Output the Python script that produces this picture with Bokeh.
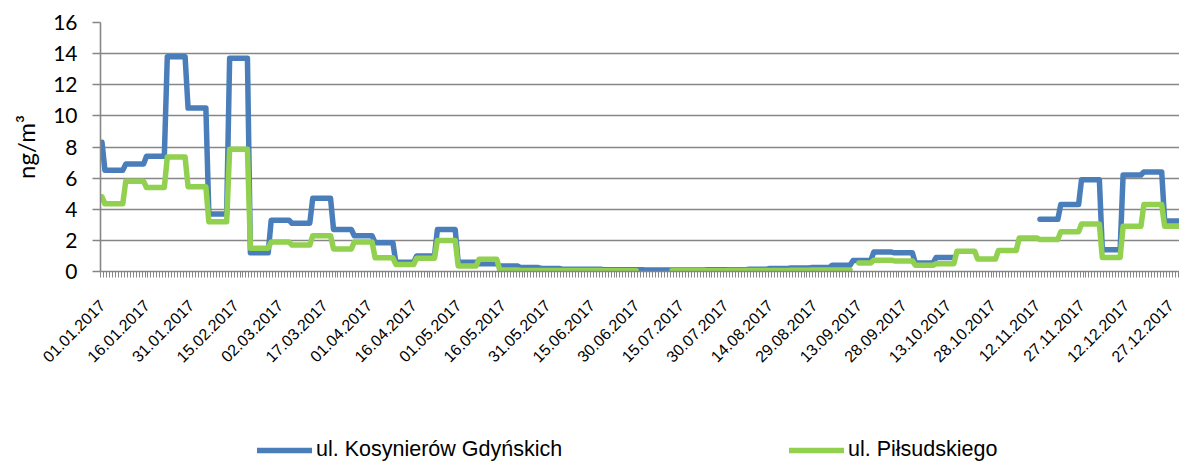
import numpy as np
import pandas as pd
from math import pi
from datetime import datetime
from bokeh.plotting import figure
from bokeh.layouts import column
from bokeh.models import Range1d, FixedTicker, Legend, LegendItem
from bokeh.embed import file_html
from bokeh.resources import INLINE

# ---- data (weekly sampling periods, Monday to Sunday) ----
week_starts = pd.date_range("2016-12-26", periods=53, freq="7D")

blue_weekly = [8.3, 6.5, 6.9, 7.4, 13.8, 10.5, 3.7, 13.7, 1.2, 3.3,
               3.1, 4.7, 2.7, 2.3, 1.85, 0.6, 1.0, 2.7, 0.6, 0.5,
               0.35, 0.25, 0.2, 0.15, 0.15, 0.12, 0.12, 0.1, 0.1, 0.1,
               0.12, 0.12, 0.15, 0.2, 0.22, 0.25, 0.4, 0.7, 1.25, 1.2,
               0.55, 0.9, None, None, None, None, 3.35, 4.3, 5.9, 1.4,
               6.2, 6.4, 3.25]

green_weekly = [4.8, 4.35, 5.8, 5.4, 7.35, 5.45, 3.2, 7.85, 1.5, 1.9,
                1.7, 2.3, 1.45, 1.9, 0.88, 0.45, 0.85, 2.0, 0.35, 0.78,
                0.1, 0.07, 0.07, 0.06, 0.06, 0.05, 0.05, 0.05, 0.05, 0.05,
                0.05, 0.06, 0.06, 0.07, 0.08, 0.1, 0.1, 0.55, 0.72, 0.68,
                0.4, 0.5, 1.3, 0.8, 1.35, 2.15, 2.05, 2.55, 3.05, 0.9,
                2.9, 4.3, 2.9]

green_missing = [("2017-07-01", "2017-07-11"), ("2017-09-11", "2017-09-12")]

tick_labels = ["01.01.2017", "16.01.2017", "31.01.2017", "15.02.2017", "02.03.2017",
               "17.03.2017", "01.04.2017", "16.04.2017", "01.05.2017", "16.05.2017",
               "31.05.2017", "15.06.2017", "30.06.2017", "15.07.2017", "30.07.2017",
               "14.08.2017", "29.08.2017", "13.09.2017", "28.09.2017", "13.10.2017",
               "28.10.2017", "12.11.2017", "27.11.2017", "12.12.2017", "27.12.2017"]

series_names = ["ul. Kosynierów Gdyńskich", "ul. Piłsudskiego"]
series_colors = ["#4a7ebb", "#92d050"]
y_ticks = [0, 2, 4, 6, 8, 10, 12, 14, 16]

# ---- build daily series ----
days = pd.date_range("2017-01-01", "2017-12-31", freq="D")
week_idx = np.asarray((days - week_starts[0]).days // 7)
blue = np.array([np.nan if v is None else v for v in blue_weekly], dtype=float)[week_idx]
green = np.array(green_weekly, dtype=float)[week_idx]
for a, b in green_missing:
    green[(days >= pd.Timestamp(a)) & (days <= pd.Timestamp(b))] = np.nan
x = np.arange(len(days))

label_pos = [int(days.get_loc(pd.Timestamp(datetime.strptime(t, "%d.%m.%Y")))) for t in tick_labels]

GRAY = "#868686"

p = figure(width=1179, height=428,
           x_range=Range1d(-0.5, 363.0), y_range=Range1d(0, 16),
           output_backend="svg", toolbar_location=None,
           min_border_left=100, min_border_right=0,
           min_border_top=22, min_border_bottom=157)
p.outline_line_color = None

p.line(x, blue, line_color=series_colors[0], line_width=5.5,
       line_join="round", line_cap="round")
p.line(x, green, line_color=series_colors[1], line_width=5.5,
       line_join="round", line_cap="round")

# grid
p.xgrid.visible = False
p.ygrid.ticker = FixedTicker(ticks=y_ticks)
p.ygrid.grid_line_color = GRAY
p.ygrid.grid_line_width = 1.6

# y axis
ya = p.yaxis[0]
ya.ticker = FixedTicker(ticks=y_ticks)
ya.axis_line_color = GRAY
ya.axis_line_width = 1.6
ya.major_tick_line_color = GRAY
ya.major_tick_line_width = 1.6
ya.major_tick_out = 8
ya.major_tick_in = 0
ya.minor_tick_line_color = None
ya.major_label_text_font = "Lato"
ya.major_label_text_font_size = "21px"
ya.major_label_text_color = "black"
ya.major_label_standoff = 15
ya.axis_label = "ng/m³"
ya.axis_label_text_font = "Lato"
ya.axis_label_text_font_size = "24px"
ya.axis_label_text_font_style = "normal"
ya.axis_label_text_color = "black"
ya.axis_label_standoff = 10

# x axis
xa = p.xaxis[0]
xa.ticker = FixedTicker(ticks=label_pos, minor_ticks=list(np.arange(-0.5, 365.0, 1.0)))
xa.major_label_overrides = {pos: lbl for pos, lbl in zip(label_pos, tick_labels)}
xa.major_label_orientation = pi / 4
xa.major_label_text_font = "Liberation Sans"
xa.major_label_text_font_size = "16px"
xa.major_label_text_color = "black"
xa.major_label_standoff = 25
xa.axis_line_color = GRAY
xa.axis_line_width = 1.6
xa.major_tick_out = 0
xa.major_tick_in = 0
xa.major_tick_line_color = None
xa.minor_tick_out = 6
xa.minor_tick_in = 0
xa.minor_tick_line_color = GRAY
xa.minor_tick_line_width = 1

# ---- legend strip below the chart (frame aligned with the chart's frame) ----
lg = figure(width=1179, height=36, x_range=Range1d(0, 1), y_range=Range1d(0, 1),
            output_backend="svg", toolbar_location=None,
            x_axis_type=None, y_axis_type=None,
            min_border_left=0, min_border_right=0, min_border_top=0, min_border_bottom=0)
lg.outline_line_color = None
lg.xgrid.visible = False
lg.ygrid.visible = False

legend_x = [157, 689]
for name, color, lx in zip(series_names, series_colors, legend_x):
    r = lg.line([0, 1], [np.nan, np.nan], line_color=color, line_width=5.5, line_cap="round")
    leg = Legend(items=[LegendItem(label=name, renderers=[r])],
                 location=(lx, 2), orientation="horizontal",
                 border_line_color=None, background_fill_alpha=0,
                 padding=0, margin=0, spacing=0,
                 glyph_width=55, glyph_height=22, label_height=22,
                 label_standoff=4,
                 label_text_font="Liberation Sans",
                 label_text_font_size="21.5px",
                 label_text_color="black")
    lg.add_layout(leg)

layout = column(p, lg, spacing=0)
open("out.html", "w").write(file_html(layout, INLINE))
